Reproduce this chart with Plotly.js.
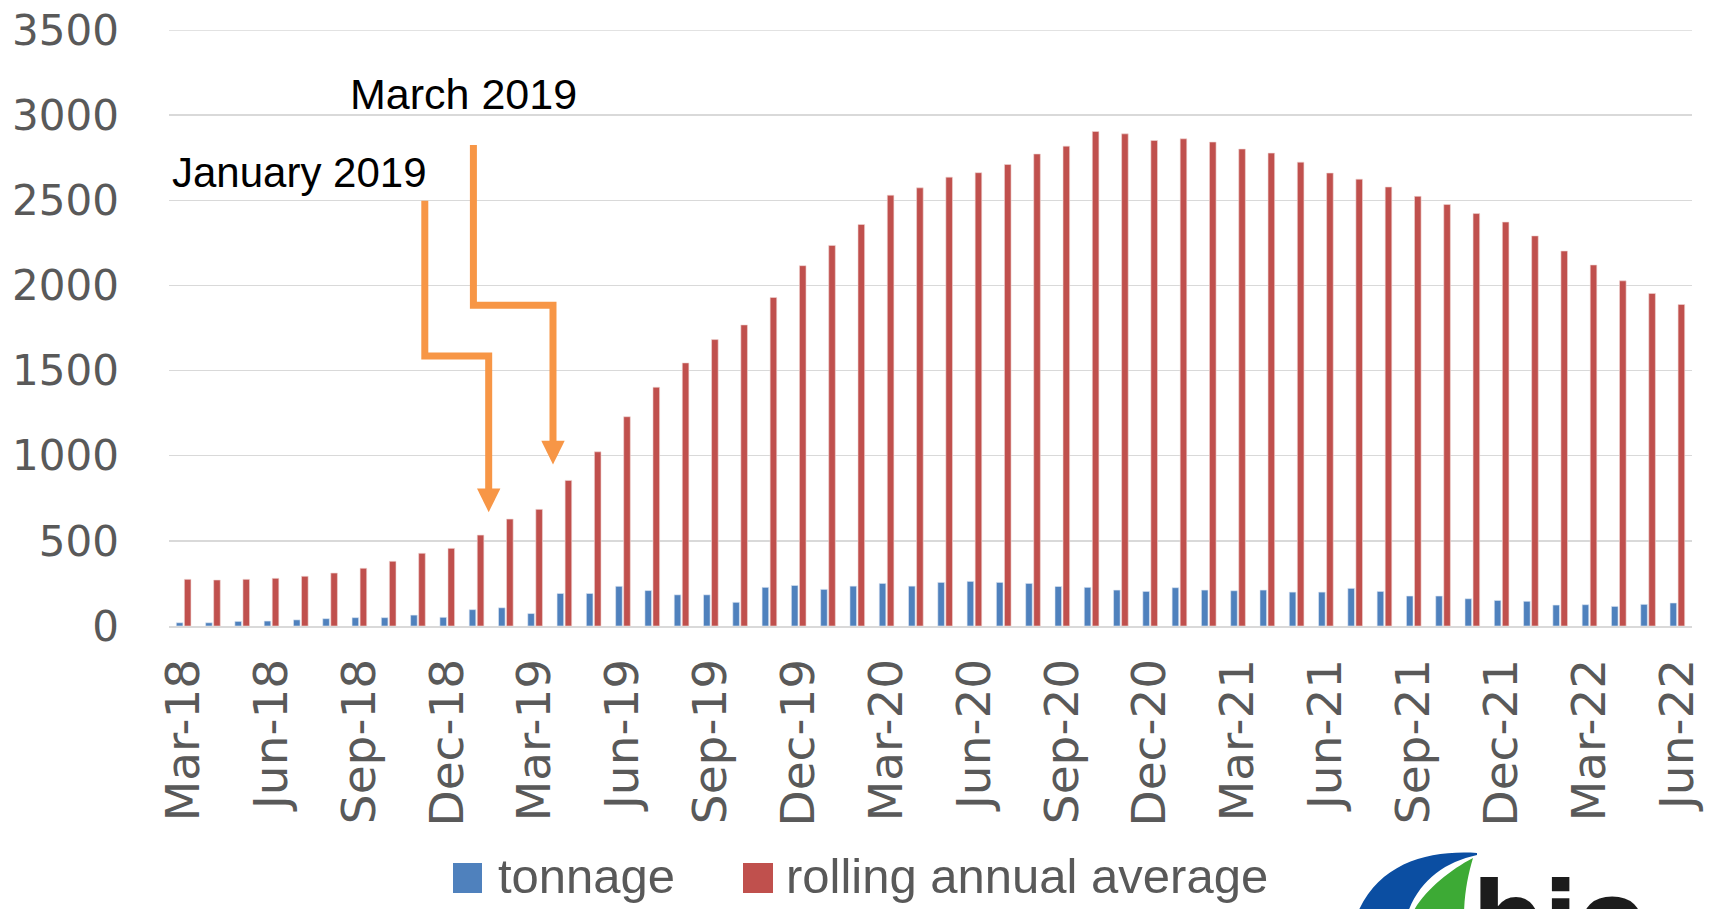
<!DOCTYPE html>
<html>
<head>
<meta charset="utf-8">
<script src="https://cdn.plot.ly/plotly-3.0.1.min.js"></script>
<style>html,body{margin:0;padding:0;background:#fff;}#chart{width:1715px;height:909px;}</style>
</head>
<body>
<div id="chart"></div>
<script>
const months = ['Mar-18','Apr-18','May-18','Jun-18','Jul-18','Aug-18','Sep-18','Oct-18','Nov-18','Dec-18',
  'Jan-19','Feb-19','Mar-19','Apr-19','May-19','Jun-19','Jul-19','Aug-19','Sep-19','Oct-19','Nov-19','Dec-19',
  'Jan-20','Feb-20','Mar-20','Apr-20','May-20','Jun-20','Jul-20','Aug-20','Sep-20','Oct-20','Nov-20','Dec-20',
  'Jan-21','Feb-21','Mar-21','Apr-21','May-21','Jun-21','Jul-21','Aug-21','Sep-21','Oct-21','Nov-21','Dec-21',
  'Jan-22','Feb-22','Mar-22','Apr-22','May-22','Jun-22'];

const tonnage = [19,19,27,29,36,43,49,49,64,51,
  96,107,73,191,191,233,208,183,183,139,227,238,
  215,234,250,234,256,262,256,250,232,227,211,203,
  225,211,207,211,199,199,221,203,176,176,160,150,
  145,123,125,115,127,135];

const rollingAvg = [274,270,274,280,292,311,339,380,427,456,
  534,628,685,855,1023,1229,1402,1545,1682,1768,1929,2116,
  2235,2358,2530,2573,2636,2662,2710,2772,2818,2904,2890,2851,
  2861,2842,2801,2777,2724,2660,2624,2578,2523,2475,2422,2372,
  2291,2202,2120,2027,1953,1888];

const tickLabels = ['Mar-18','Jun-18','Sep-18','Dec-18','Mar-19','Jun-19','Sep-19','Dec-19',
  'Mar-20','Jun-20','Sep-20','Dec-20','Mar-21','Jun-21','Sep-21','Dec-21','Mar-22','Jun-22'];

const yTicks = [0,500,1000,1500,2000,2500,3000,3500];

const seriesNames = ['tonnage','rolling annual average'];
const seriesColors = ['#4F81BD','#C0504D'];
const callouts = ['January 2019','March 2019'];

// layout geometry (pixels)
const L = 169, T = 30, W = 1523, H = 596;
const px = x => (x - L) / W;
const py = y => (T + H - y) / H;
const pathOf = pts => pts.map((p, i) => (i === 0 ? 'M' : 'L') + px(p[0]).toFixed(5) + ',' + py(p[1]).toFixed(5)).join(' ');

const orange = '#F79646';
const grid = '#D9D9D9';

const traces = [
  {type:'bar', x: months, y: tonnage, name: seriesNames[0],
   marker:{color: seriesColors[0], line:{color:'#dfe8f3', width:0.6}}, showlegend:false, hoverinfo:'x+y'},
  {type:'bar', x: months, y: rollingAvg, name: seriesNames[1],
   marker:{color: seriesColors[1], line:{color:'#f0d6d5', width:0.6}}, showlegend:false, hoverinfo:'x+y'}
];

const shapes = [
  // top gridline (at the range edge)
  {type:'line', xref:'paper', yref:'y', x0:0, x1:1, y0: yTicks[yTicks.length-1], y1: yTicks[yTicks.length-1],
   line:{color: grid, width:1.5}, layer:'below'},
  // January arrow
  {type:'path', xref:'paper', yref:'paper', path: pathOf([[424.8,200.8],[424.8,356],[488.7,356],[488.7,492]]),
   line:{color: orange, width:7}, fillcolor:'rgba(0,0,0,0)'},
  {type:'path', xref:'paper', yref:'paper', path: pathOf([[477,488.6],[500.4,488.6],[488.7,512.2]]) + ' Z',
   line:{color: orange, width:0}, fillcolor: orange},
  // March arrow
  {type:'path', xref:'paper', yref:'paper', path: pathOf([[473.4,145],[473.4,305.3],[553,305.3],[553,443]]),
   line:{color: orange, width:7}, fillcolor:'rgba(0,0,0,0)'},
  {type:'path', xref:'paper', yref:'paper', path: pathOf([[541.3,440.8],[564.7,440.8],[553,464.5]]) + ' Z',
   line:{color: orange, width:0}, fillcolor: orange},
  // custom legend swatches
  {type:'rect', xref:'paper', yref:'paper', x0: px(453), x1: px(482), y0: py(893), y1: py(863),
   line:{width:0}, fillcolor: seriesColors[0]},
  {type:'rect', xref:'paper', yref:'paper', x0: px(743), x1: px(773), y0: py(893), y1: py(863),
   line:{width:0}, fillcolor: seriesColors[1]},
  // logo swoosh
  {type:'path', xref:'paper', yref:'paper', line:{width:0}, fillcolor:'#0B4EA2',
   path: 'M' + px(1477) + ',' + py(853) + ' C' + px(1430) + ',' + py(850) + ' ' + px(1380) + ',' + py(862) + ' ' + px(1358) + ',' + py(912) +
         ' L' + px(1408) + ',' + py(912) + ' C' + px(1420) + ',' + py(880) + ' ' + px(1445) + ',' + py(862) + ' ' + px(1477) + ',' + py(855) + ' Z'},
  {type:'path', xref:'paper', yref:'paper', line:{width:0}, fillcolor:'#3DAA35',
   path: 'M' + px(1473) + ',' + py(858) + ' C' + px(1450) + ',' + py(870) + ' ' + px(1425) + ',' + py(890) + ' ' + px(1413) + ',' + py(912) +
         ' L' + px(1464) + ',' + py(912) + ' C' + px(1465) + ',' + py(890) + ' ' + px(1468) + ',' + py(875) + ' ' + px(1473) + ',' + py(858) + ' Z'}
];

const annotations = [
  {xref:'paper', yref:'paper', x: px(170), y: py(173), xanchor:'left', yanchor:'middle', showarrow:false,
   text: callouts[0], font:{family:'Liberation Sans, Arial, sans-serif', size:42, color:'#000'}},
  {xref:'paper', yref:'paper', x: px(348), y: py(94), xanchor:'left', yanchor:'middle', showarrow:false,
   text: callouts[1], font:{family:'Liberation Sans, Arial, sans-serif', size:43, color:'#000'}},
  {xref:'paper', yref:'paper', x: px(496), y: py(876), xanchor:'left', yanchor:'middle', showarrow:false,
   text: seriesNames[0], font:{family:'Liberation Sans, Arial, sans-serif', size:49, color:'#595959'}},
  {xref:'paper', yref:'paper', x: px(784), y: py(876), xanchor:'left', yanchor:'middle', showarrow:false,
   text: seriesNames[1], font:{family:'Liberation Sans, Arial, sans-serif', size:49, color:'#595959'}},
  {xref:'paper', yref:'paper', x: px(1470), y: py(858), xanchor:'left', yanchor:'top', showarrow:false,
   text: '<b>bio</b>', font:{family:'DejaVu Sans, sans-serif', size:100, color:'#1c1c1c'}}
];

const layout = {
  width: 1715, height: 909,
  margin: {l: L, r: 1715 - L - W, t: T, b: 909 - T - H, pad: 0},
  paper_bgcolor: '#fff', plot_bgcolor: '#fff',
  barmode: 'group', bargap: 0.45, bargroupgap: 0.18,
  showlegend: false,
  xaxis: {
    type: 'category', tickmode: 'array', tickvals: tickLabels, ticktext: tickLabels,
    tickangle: -90, ticks: '', ticklabelstandoff: 12,
    tickfont: {family: 'DejaVu Sans, Verdana, sans-serif', size: 47, color: '#595959'},
    showline: true, linecolor: grid, linewidth: 2, showgrid: false, zeroline: false,
    range: [-0.5, months.length - 0.5]
  },
  xaxis2: {
    overlaying: 'x', anchor: 'y', side: 'bottom', type: 'linear',
    range: [-0.5, months.length - 0.5],
    tickmode: 'array', tickvals: tickLabels.map(t => months.indexOf(t) - 0.5),
    ticks: 'outside', ticklen: 18, tickwidth: 2, tickcolor: grid,
    showticklabels: false, showgrid: false, zeroline: false, showline: false
  },
  yaxis: {
    range: [0, 3500], tickmode: 'array', tickvals: yTicks, ticktext: yTicks.map(String),
    tickfont: {family: 'DejaVu Sans, Verdana, sans-serif', size: 42, color: '#595959'},
    ticks: '', ticklabelstandoff: 49,
    showgrid: true, gridcolor: grid, gridwidth: 1.5,
    zeroline: false, showline: false
  },
  shapes: shapes,
  annotations: annotations
};

Plotly.newPlot('chart', traces, layout, {displayModeBar: false, staticPlot: true});
</script>
</body>
</html>
